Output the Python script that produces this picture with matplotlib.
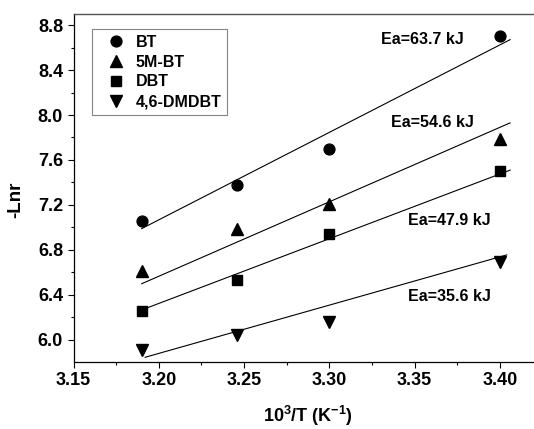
import matplotlib
matplotlib.use("Agg")
import matplotlib.pyplot as plt
from matplotlib.ticker import MultipleLocator, FormatStrFormatter

plt.rcParams['font.family'] = ['Liberation Sans', 'DejaVu Sans']
plt.rcParams['font.weight'] = 'bold'
plt.rcParams['mathtext.fontset'] = 'custom'
plt.rcParams['mathtext.rm'] = 'Liberation Sans:bold'
plt.rcParams['mathtext.bf'] = 'Liberation Sans:bold'
plt.rcParams['mathtext.default'] = 'bf'

# Data
inv_T = [3.19, 3.246, 3.30, 3.40]
series_names = ["BT", "5M-BT", "DBT", "4,6-DMDBT"]
bt = [7.06, 7.38, 7.70, 8.70]
m5bt = [6.61, 6.99, 7.21, 7.79]
dbt = [6.26, 6.53, 6.94, 7.50]
dmdbt = [5.91, 6.04, 6.16, 6.69]

# Arrhenius fit lines (as drawn): x range and end values
fit_x = [3.19, 3.406]
fit_bt = [6.99, 8.67]
fit_m5bt = [6.50, 7.93]
fit_dbt = [6.267, 7.51]
fit_dmdbt_x = [3.192, 3.404]
fit_dmdbt = [5.846, 6.756]

ea_labels = ["Ea=63.7 kJ", "Ea=54.6 kJ", "Ea=47.9 kJ", "Ea=35.6 kJ"]
ea_x = [3.330, 3.336, 3.346, 3.346]
ea_y = [8.667, 7.93, 7.06, 6.39]

fig = plt.figure(figsize=(5.34, 4.29), dpi=100)
W, H = 534, 429
L = 73.5
ax = fig.add_axes([L / W, (H - 362) / H, (534 - L) / W, (362 - 14) / H])

markers = ['o', '^', 's', 'v']
sizes = [7.8, 9, 7.5, 9]
for name, ys, m, s in zip(series_names, [bt, m5bt, dbt, dmdbt], markers, sizes):
    ax.plot(inv_T, ys, linestyle='none', marker=m, markersize=s, color='black', label=name)

ax.plot(fit_x, fit_bt, color='black', lw=0.8)
ax.plot(fit_x, fit_m5bt, color='black', lw=0.8)
ax.plot(fit_x, fit_dbt, color='black', lw=0.8)
ax.plot(fit_dmdbt_x, fit_dmdbt, color='black', lw=0.8)

for t, x, y in zip(ea_labels, ea_x, ea_y):
    ax.text(x, y, t, fontsize=11.5, fontweight='bold', ha='left', va='center')

ax.set_xlim(3.15, 3.42)
ax.set_ylim(5.804, 8.898)
ax.xaxis.set_major_locator(MultipleLocator(0.05))
ax.xaxis.set_minor_locator(MultipleLocator(0.025))
ax.yaxis.set_major_locator(MultipleLocator(0.4))
ax.yaxis.set_minor_locator(MultipleLocator(0.2))
ax.xaxis.set_major_formatter(FormatStrFormatter('%.2f'))
ax.yaxis.set_major_formatter(FormatStrFormatter('%.1f'))
ax.tick_params(which='major', direction='out', length=4.5, width=0.8, labelsize=13, pad=3)
ax.tick_params(which='minor', direction='out', length=2.5, width=0.8)
for lab in ax.get_xticklabels() + ax.get_yticklabels():
    lab.set_fontweight('bold')

ax.spines['right'].set_visible(False)
ax.spines['top'].set_color('#555555')
ax.spines['top'].set_linewidth(1.0)
ax.spines['left'].set_linewidth(0.9)
ax.spines['bottom'].set_linewidth(0.9)

ax.set_xlabel(r'10$^{3}$/T (K$^{-1}$)', fontsize=13, fontweight='bold')
ax.set_ylabel('-Lnr', fontsize=13.5, fontweight='bold')
ax.xaxis.set_label_coords(0.509, -0.12)
ax.yaxis.set_label_coords(-0.108, 0.466)

leg = ax.legend(loc='upper left', bbox_to_anchor=((91.5 - L) / (534 - L), 1 - 15.3 / 348),
                frameon=True, fancybox=False, edgecolor='#666666', fontsize=11.5,
                handletextpad=0.0, borderpad=0.35, labelspacing=0.3, handlelength=2.4,
                borderaxespad=0)
leg.get_frame().set_linewidth(0.8)
for t in leg.get_texts():
    t.set_fontweight('bold')

fig.savefig('out.png', dpi=100)
